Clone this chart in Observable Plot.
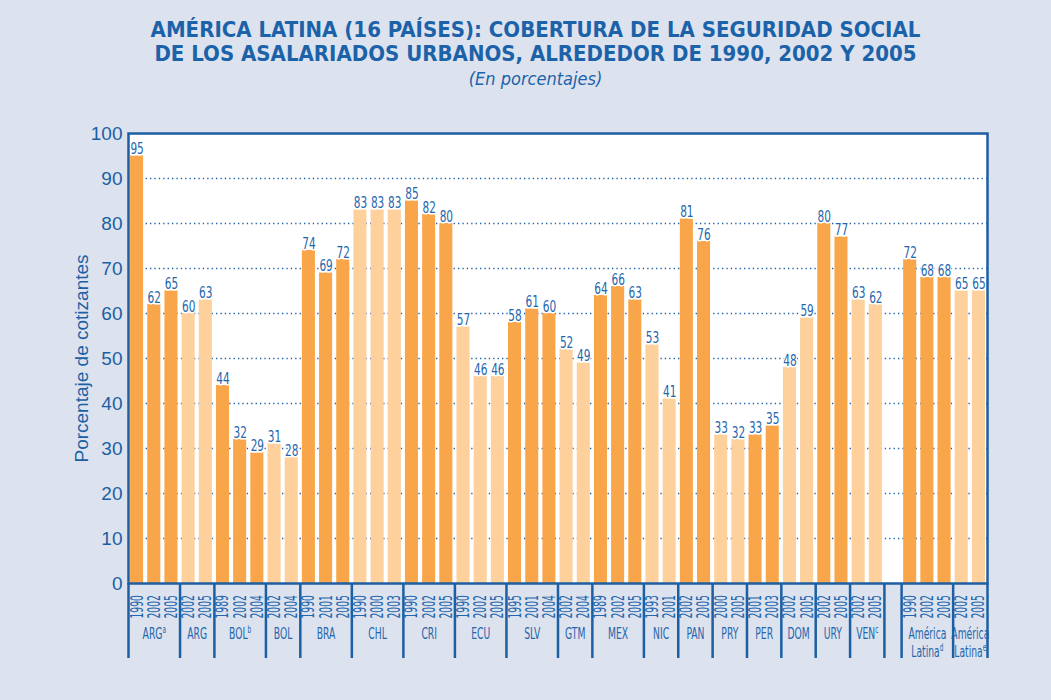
<!DOCTYPE html>
<html>
<head>
<meta charset="utf-8">
<script src="https://cdn.jsdelivr.net/npm/d3@7"></script>
<script src="https://cdn.jsdelivr.net/npm/@observablehq/plot@0.6"></script>
<style>
  html, body { margin: 0; padding: 0; background: #dde2ef; }
  #wrap { width: 1051px; height: 700px; position: relative; overflow: hidden; }
  #header { height: 100px; box-sizing: border-box; padding-top: 18px; padding-left: 20px; text-align: center; color: #1b62a8; }
  #header .t { font-family: "Liberation Sans Narrow", "DejaVu Sans Condensed", "Liberation Sans", sans-serif; font-weight: bold; font-size: 22px; line-height: 24px; }
  #header .s { font-family: "Liberation Sans Narrow", "DejaVu Sans Condensed", "Liberation Sans", sans-serif; font-style: italic; font-size: 18px; line-height: 26px; }
  #chart svg { display: block; }
</style>
</head>
<body>
<div id="wrap">
  <div id="header">
    <div class="t">AMÉRICA LATINA (16 PAÍSES): COBERTURA DE LA SEGURIDAD SOCIAL</div>
    <div class="t">DE LOS ASALARIADOS URBANOS, ALREDEDOR DE 1990, 2002 Y 2005</div>
    <div class="s">(En porcentajes)</div>
  </div>
  <div id="chart"></div>
</div>
<script>
// ---- data ----
const groups = ["ARG^a", "ARG", "BOL^b", "BOL", "BRA", "CHL", "CRI", "ECU", "SLV", "GTM",
                "MEX", "NIC", "PAN", "PRY", "PER", "DOM", "URY", "VEN^c",
                "América\nLatina^d", "América\nLatina^e"];
const years = [
  ["1990", "2002", "2005"], ["2002", "2005"], ["1989", "2002", "2004"], ["2002", "2004"],
  ["1990", "2001", "2005"], ["1990", "2000", "2003"], ["1990", "2002", "2005"], ["1990", "2002", "2005"],
  ["1995", "2001", "2004"], ["2002", "2004"], ["1989", "2002", "2005"], ["1993", "2001"],
  ["2002", "2005"], ["2000", "2005"], ["2001", "2003"], ["2002", "2005"], ["2002", "2005"],
  ["2002", "2005"], ["1990", "2002", "2005"], ["2002", "2005"]
];
const values = [
  [95, 62, 65], [60, 63], [44, 32, 29], [31, 28], [74, 69, 72], [83, 83, 83], [85, 82, 80],
  [57, 46, 46], [58, 61, 60], [52, 49], [64, 66, 63], [53, 41], [81, 76], [33, 32], [33, 35],
  [48, 59], [80, 77], [63, 62], [72, 68, 68], [65, 65]
];
const gapAfterGroup = 17; // empty slot between VEN and América Latina
const yTicks = [0, 10, 20, 30, 40, 50, 60, 70, 80, 90, 100];
const gridTicks = [10, 20, 30, 40, 50, 60, 70, 80, 90];

// ---- build tables ----
const bars = [];
const domain = [];
const groupInfo = [];
groups.forEach((g, gi) => {
  const keys = [];
  values[gi].forEach((v, yi) => {
    const key = gi + "-" + yi;
    keys.push(key);
    domain.push(key);
    bars.push({key, value: v, year: years[gi][yi], shade: gi % 2 === 0 ? "dark" : "light"});
  });
  groupInfo.push({label: g, keys});
  if (gi === gapAfterGroup) domain.push("gap");
});

const W = 1051, H = 600;
const mL = 128, mR = 64, mT = 33, mB = 117;
const step = (W - mL - mR) / domain.length;

const oddGroups = groupInfo.filter(g => g.keys.length % 2 === 1).map(g => ({label: g.label, key: g.keys[(g.keys.length - 1) / 2]}));
const evenGroups = groupInfo.filter(g => g.keys.length % 2 === 0).map(g => ({label: g.label, key: g.keys[g.keys.length / 2 - 1]}));
const dividers = groupInfo.map(g => g.keys[0]).concat(["gap"]);
const lastKey = domain[domain.length - 1];

const blue = "#1c5fa3";
const txt = "#2466ac";
const cond = "'Liberation Sans Narrow', 'DejaVu Sans Condensed', 'Liberation Sans', sans-serif";
const FS_VAL = 15, FS_YEAR = 17, FS_GROUP = 16;

const chart = Plot.plot({
  width: W, height: H,
  marginLeft: mL, marginRight: mR, marginTop: mT, marginBottom: mB,
  style: {background: "transparent", color: blue, fontFamily: "'Liberation Sans', sans-serif"},
  x: {domain, paddingInner: 0.24, paddingOuter: 0.12, round: false, axis: null},
  y: {domain: [0, 100]},
  color: {domain: ["dark", "light"], range: ["#f9a64a", "#fdd09c"]},
  marks: [
    Plot.frame({fill: "white", stroke: null}),
    Plot.ruleY(gridTicks, {stroke: blue, strokeWidth: 1.4, strokeDasharray: "1.3 3.1"}),
    Plot.barY(bars, {x: "key", y: "value", fill: "shade"}),
    Plot.text(bars, {x: "key", y: "value", text: d => String(d.value), dy: -2, lineAnchor: "bottom",
      fill: txt, stroke: "white", strokeWidth: 3, fontSize: FS_VAL, fontFamily: cond}),
    Plot.text(bars, {x: "key", y: 0, text: "year", rotate: -90, textAnchor: "start", lineAnchor: "middle",
      dy: 35, fill: txt, fontSize: FS_YEAR, fontFamily: cond}),
    Plot.text(oddGroups, {x: "key", y: 0, text: "label", lineAnchor: "top", dy: 42, fill: txt,
      fontSize: FS_GROUP, fontFamily: cond, lineHeight: 1.15}),
    Plot.text(evenGroups, {x: "key", y: 0, text: "label", lineAnchor: "top", dy: 42, dx: step / 2, fill: txt,
      fontSize: FS_GROUP, fontFamily: cond, lineHeight: 1.15}),
    Plot.ruleX(dividers, {x: d => d, y1: 0, y2: 0, dx: -step / 2, insetBottom: -75, stroke: blue, strokeWidth: 2.5}),
    Plot.ruleX([lastKey], {x: d => d, y1: 0, y2: 0, dx: step / 2, insetBottom: -75, stroke: blue, strokeWidth: 2.5}),
    Plot.axisY(yTicks, {tickSize: 0, tickPadding: 6, fontSize: 19, fill: blue,
      label: "Porcentaje de cotizantes", labelArrow: "none", labelAnchor: "center", labelOffset: 54}),
    Plot.frame({stroke: blue, strokeWidth: 2.5})
  ]
});

// condense text glyphs (the original uses a condensed typeface)
function squeeze(fs, s) {
  chart.querySelectorAll("g").forEach(g => {
    if (g.getAttribute("font-size") !== String(fs)) return;
    g.querySelectorAll(":scope > text").forEach(el => {
      let t = el.getAttribute("transform");
      if (!t) {
        const x = el.getAttribute("x") || 0, y = el.getAttribute("y") || 0;
        el.removeAttribute("x"); el.removeAttribute("y");
        t = `translate(${x},${y})`;
      }
      el.setAttribute("transform", t + ` scale(${s},1)`);
    });
  });
}
squeeze(FS_VAL, 0.78);
squeeze(FS_YEAR, 0.6);
squeeze(FS_GROUP, 0.64);

// superscripts: "ABC^x" -> ABC + raised x
chart.querySelectorAll("text, tspan").forEach(el => {
  if (el.children.length) return;
  const s = el.textContent;
  const i = s.indexOf("^");
  if (i < 0) return;
  el.textContent = s.slice(0, i);
  const sup = document.createElementNS("http://www.w3.org/2000/svg", "tspan");
  sup.setAttribute("baseline-shift", "super");
  sup.setAttribute("font-size", "10");
  sup.textContent = s.slice(i + 1);
  el.appendChild(sup);
});

document.getElementById("chart").appendChild(chart);
</script>
</body>
</html>
